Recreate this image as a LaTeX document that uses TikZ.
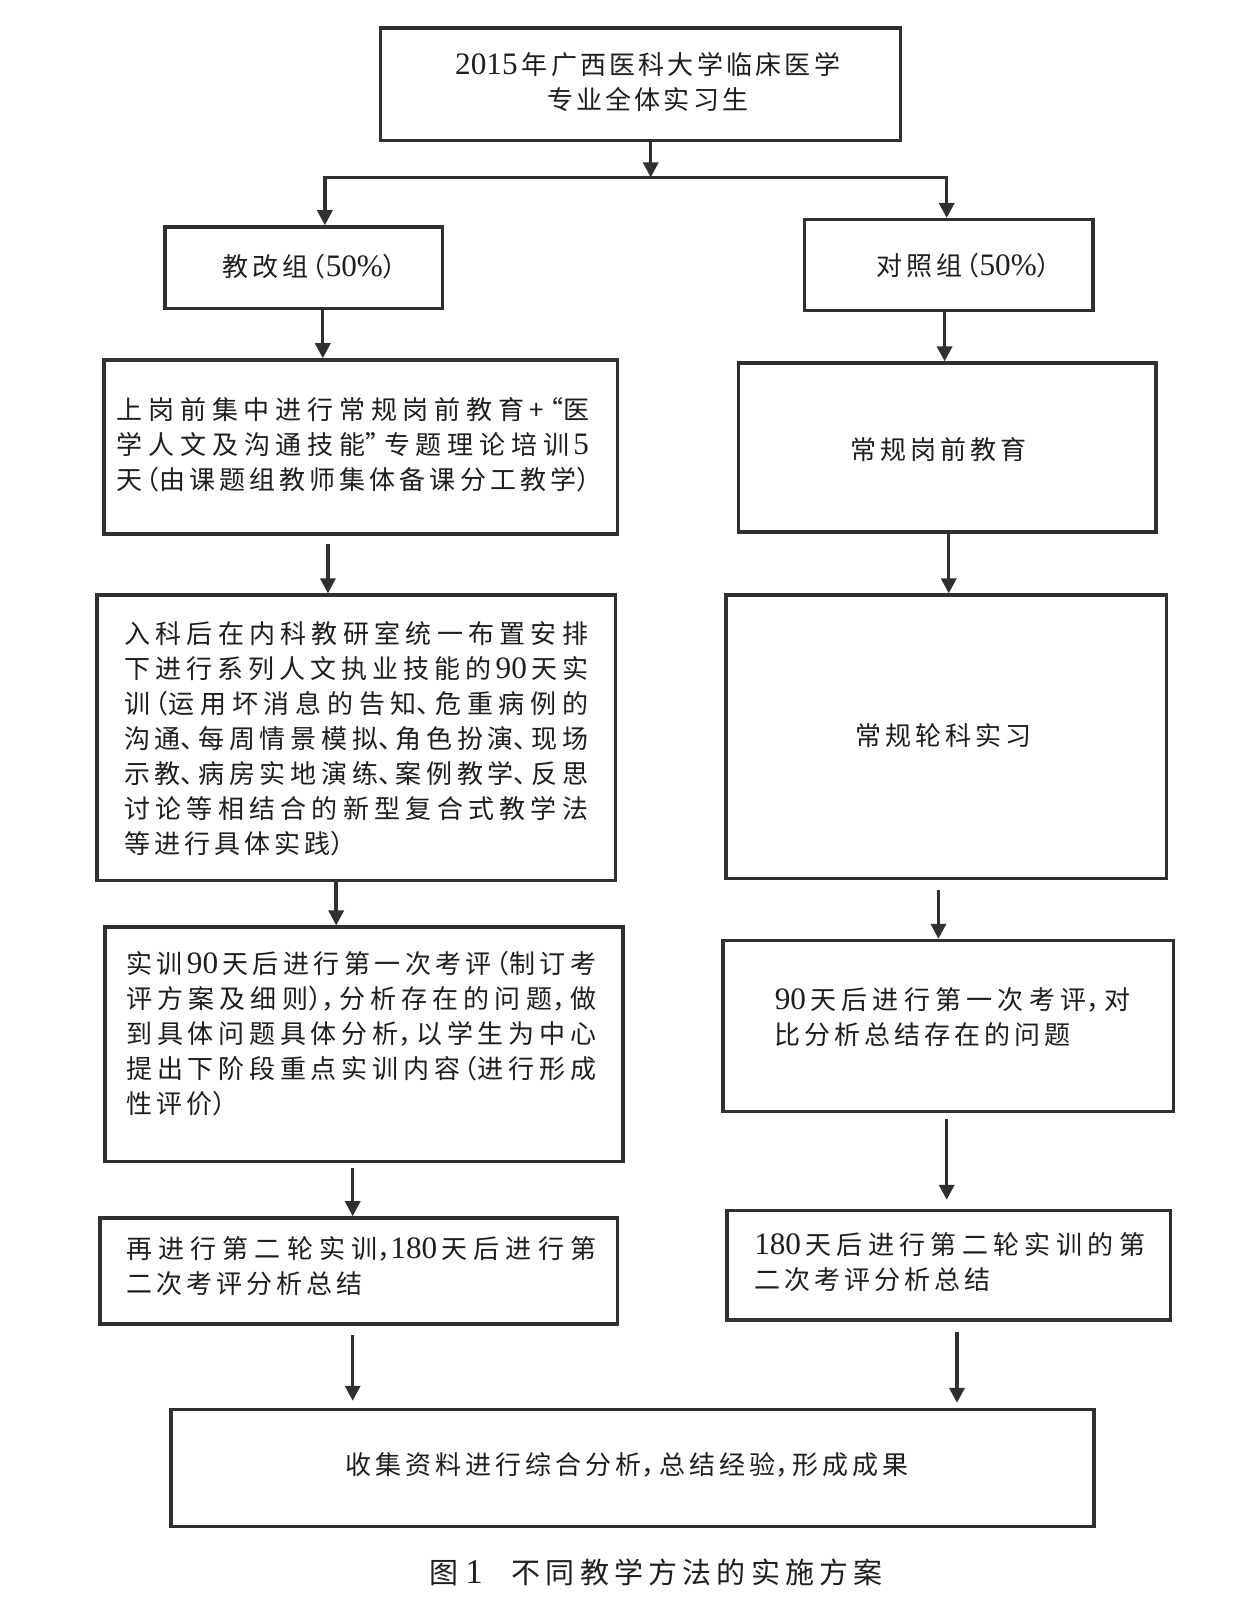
\documentclass[tikz,border=0pt]{standalone}
\usepackage{fontspec}
\setmainfont{Noto Sans CJK SC}[RawFeature=+halt]
\newfontfamily\lat{Liberation Serif}[Scale=1.2]
\usetikzlibrary{arrows.meta,fit}
\XeTeXlinebreaklocale "zh"
\XeTeXlinebreakskip=2pt plus 3pt minus 2pt
\setlength{\parindent}{0pt}
\definecolor{ink}{HTML}{1E1E1E}
\definecolor{edge}{HTML}{303030}
\newcommand{\nm}[1]{{\lat #1}}
\begin{document}
\begin{tikzpicture}[x=0.5155pt,y=-0.5155pt,
  box/.style={draw=edge,line width=1.7pt,inner sep=0pt},
  txt/.style={inner sep=0pt,text=ink,font={\fontsize{13}{17.5}\selectfont\XeTeXlinebreakskip=2pt plus 3pt minus 2pt\relax},align=justify,anchor=west},
  ctxt/.style={inner sep=0pt,text=ink,font={\fontsize{13}{17.5}\selectfont\XeTeXlinebreakskip=2pt\relax},align=center,text width=330pt},
  arr/.style={draw=edge,line width=1.7pt,-{Triangle[length=7.5pt,width=7.5pt]}},
  ln/.style={draw=edge,line width=1.7pt}]
\useasboundingbox[fill=white] (0,0) rectangle (1195,1568);

% boxes
\node[box,fit={(369,27) (873,136)}] (top) {};
\node[box,fit={(160,220) (429,299)}] (JG) {};
\node[box,fit={(780,213) (1060,301)}] (DZ) {};
\node[box,fit={(101,349) (599,518)}] (L1) {};
\node[box,fit={(716,352) (1121,516)}] (R1) {};
\node[box,fit={(94,577) (597,854)}] (L2) {};
\node[box,fit={(704,577) (1131,852)}] (R2) {};
\node[box,fit={(102,899) (604,1126)}] (L3) {};
\node[box,fit={(701,912) (1138,1078)}] (R3) {};
\node[box,fit={(97,1181) (599,1284)}] (L4) {};
\node[box,fit={(705,1174) (1135,1280)}] (R4) {};
\node[box,fit={(166,1367) (1061,1480)}] (B) {};

% texts
\node[ctxt,font={\fontsize{13}{17.5}\selectfont\XeTeXlinebreakskip=1.6pt\relax}] (topt) at (628,80) {\nm{2015}\,年广西医科大学临床医学\\专业全体实习生};
\node[ctxt] (JGt) at (300,259) {教改组（\nm{50\%}）};
\node[ctxt] (DZt) at (934,258) {对照组（\nm{50\%}）};
\node[txt,text width=236pt] (L1t) at (113,431.5) {上岗前集中进行常规岗前教育+“医\linebreak
学人文及沟通技能”专题理论培训\,\nm{5}\linebreak
天（由课题组教师集体备课分工教学）};
\node[ctxt] (R1t) at (910,436) {常规岗前教育};
\node[txt,text width=232pt] (L2t) at (120,716.5) {入科后在内科教研室统一布置安排\linebreak
下进行系列人文执业技能的\,\nm{90}\,天实\linebreak
训（运用坏消息的告知、危重病例的\linebreak
沟通、每周情景模拟、角色扮演、现场\linebreak
示教、病房实地演练、案例教学、反思\linebreak
讨论等相结合的新型复合式教学法\linebreak
等进行具体实践）};
\node[ctxt] (R2t) at (915,713) {常规轮科实习};
\node[txt,text width=235pt] (L3t) at (122,1002) {实训\,\nm{90}\,天后进行第一次考评（制订考\linebreak
评方案及细则），分析存在的问题，做\linebreak
到具体问题具体分析，以学生为中心\linebreak
提出下阶段重点实训内容（进行形成\linebreak
性评价）};
\node[txt,text width=177.8pt] (R3t) at (751,986) {\nm{90}\,天后进行第一次考评，对\linebreak
比分析总结存在的问题};
\node[txt,text width=235pt] (L4t) at (122,1227.5) {再进行第二轮实训，\nm{180}\,天后进行第\linebreak
二次考评分析总结};
\node[txt,text width=195.4pt] (R4t) at (731,1224) {\nm{180}\,天后进行第二轮实训的第\linebreak
二次考评分析总结};
\node[ctxt] (Bt) at (608,1420) {收集资料进行综合分析，总结经验，形成成果};
\node[ctxt,font={\fontsize{14.5}{17}\selectfont\XeTeXlinebreakskip=2.6pt\relax}] (cap) at (636,1525) {图\hspace{0.25em}\nm{1}\hspace{1em}不同教学方法的实施方案};

% connector coordinates
\coordinate (split) at (631,172);
\coordinate (hL) at (315,172);
\coordinate (hR) at (918,172);
\coordinate (xa) at (313,0);
\coordinate (xb) at (916,0);
\coordinate (xc) at (318,0);
\coordinate (xd) at (920,0);
\coordinate (xe) at (326,0);
\coordinate (xf) at (910,0);
\coordinate (xg) at (342,0);
\coordinate (xh) at (918,0);
\coordinate (xi) at (342,0);
\coordinate (xj) at (928,0);

\draw[arr] (top.south -| split) -- (split);
\draw[ln,line cap=rect] (hL) -- (hR);
\draw[arr] (hL) -- (hL |- JG.north);
\draw[arr] (hR) -- (hR |- DZ.north);
\draw[arr] (JG.south -| xa) -- (L1.north -| xa);
\draw[arr] (DZ.south -| xb) -- (R1.north -| xb);
\draw[arr,shorten <=4pt] (L1.south -| xc) -- (L2.north -| xc);
\draw[arr] (R1.south -| xd) -- (R2.north -| xd);
\draw[arr] (L2.south -| xe) -- (L3.north -| xe);
\draw[arr,shorten <=5pt] (R2.south -| xf) -- (R3.north -| xf);
\draw[arr,shorten <=2.6pt] (L3.south -| xg) -- (L4.north -| xg);
\draw[arr,shorten <=3pt,shorten >=4.6pt] (R3.south -| xh) -- (R4.north -| xh);
\draw[arr,shorten <=4.6pt,shorten >=3.6pt] (L4.south -| xi) -- (B.north -| xi);
\draw[arr,shorten <=5pt,shorten >=2.6pt] (R4.south -| xj) -- (B.north -| xj);
\end{tikzpicture}
\end{document}
